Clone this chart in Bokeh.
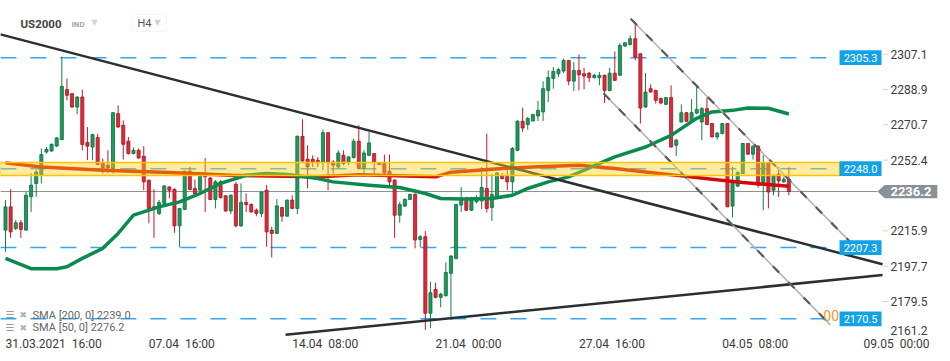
from bokeh.plotting import figure
from bokeh.models import Range1d, Label, ColumnDataSource, BoxAnnotation
from bokeh.core.properties import value
from bokeh.embed import file_html
from bokeh.resources import INLINE

# ---------------- data (US2000, H4 candles) ----------------
opens = [2216.3, 2228.3, 2217.2, 2220.1, 2216.3, 2233.5, 2240.4, 2245.0, 2256.6, 2257.2,
         2259.7, 2263.0, 2288.8, 2286.7, 2279.8, 2285.0, 2261.5, 2259.2, 2264.1, 2250.7,
         2249.8, 2248.1, 2276.4, 2270.4, 2262.2, 2255.8, 2257.5, 2254.4, 2242.1, 2228.3,
         2224.9, 2230.1, 2238.6, 2237.4, 2218.5, 2227.0, 2246.7, 2237.8, 2236.9, 2245.5,
         2243.2, 2232.1, 2241.2, 2234.0, 2226.2, 2240.0, 2218.5, 2230.6, 2229.5, 2226.6,
         2224.9, 2236.9, 2216.3, 2214.6, 2228.0, 2223.5, 2231.8, 2227.5, 2264.7, 2252.9,
         2252.9, 2252.4, 2251.5, 2266.6, 2251.5, 2248.9, 2254.9, 2251.5, 2253.8, 2262.2,
         2248.1, 2254.9, 2255.8, 2251.0, 2250.7, 2246.7, 2242.1, 2224.0, 2228.7, 2232.1,
         2234.8, 2211.5, 2212.9, 2173.4, 2185.7, 2181.6, 2182.5, 2194.0, 2201.7, 2229.2,
         2232.3, 2226.6, 2230.9, 2231.4, 2237.8, 2228.0, 2233.5, 2244.1, 2244.1, 2241.2,
         2257.5, 2272.5, 2270.8, 2272.6, 2275.2, 2277.3, 2288.4, 2294.5, 2297.0, 2298.4,
         2303.9, 2293.2, 2298.7, 2297.0, 2297.3, 2295.0, 2295.0, 2296.2, 2288.4, 2297.3,
         2296.2, 2311.3, 2312.1, 2315.1, 2307.3, 2279.8, 2289.3, 2288.4, 2284.2, 2281.2,
         2284.7, 2260.1, 2272.1, 2276.9, 2272.5, 2276.7, 2272.1, 2279.0, 2271.3, 2264.4,
         2266.1, 2271.3, 2228.7, 2239.0, 2245.5, 2261.0, 2255.5, 2259.6, 2240.7, 2251.0,
         2236.9, 2245.2, 2241.2, 2242.6]
highs = [2231.8, 2237.4, 2221.5, 2221.5, 2236.0, 2245.7, 2247.2, 2258.4, 2259.2, 2261.0,
         2264.4, 2305.9, 2294.5, 2287.0, 2285.3, 2288.8, 2269.5, 2266.1, 2266.1, 2253.2,
         2257.5, 2277.3, 2280.7, 2273.0, 2264.4, 2258.9, 2258.4, 2259.6, 2242.3, 2237.4,
         2231.8, 2239.5, 2238.8, 2237.8, 2227.7, 2247.0, 2248.9, 2242.4, 2246.3, 2253.5,
         2243.8, 2242.1, 2242.1, 2234.3, 2234.7, 2241.2, 2240.4, 2235.2, 2230.1, 2227.5,
         2236.0, 2239.5, 2218.0, 2232.3, 2228.3, 2232.1, 2234.3, 2265.2, 2273.5, 2260.1,
         2254.9, 2254.1, 2268.2, 2266.8, 2252.4, 2257.5, 2257.5, 2254.4, 2263.5, 2270.4,
         2257.5, 2266.9, 2256.0, 2251.5, 2255.3, 2255.3, 2242.6, 2230.9, 2232.8, 2235.2,
         2235.2, 2213.7, 2215.8, 2189.7, 2189.2, 2184.0, 2199.7, 2203.4, 2230.0, 2238.6,
         2233.5, 2233.5, 2234.3, 2248.9, 2266.1, 2245.2, 2246.3, 2245.8, 2248.9, 2259.2,
         2273.0, 2279.5, 2274.7, 2276.4, 2282.9, 2293.1, 2298.7, 2300.4, 2300.1, 2304.8,
         2304.1, 2303.0, 2307.0, 2300.1, 2297.9, 2297.0, 2297.9, 2296.5, 2300.1, 2308.5,
         2312.8, 2313.3, 2316.8, 2322.4, 2307.5, 2297.3, 2291.5, 2288.8, 2284.7, 2284.9,
         2291.0, 2263.5, 2281.2, 2277.3, 2283.8, 2290.5, 2279.8, 2284.7, 2271.6, 2266.9,
         2271.6, 2271.6, 2248.9, 2246.7, 2261.1, 2261.1, 2260.1, 2260.1, 2254.9, 2251.2,
         2245.2, 2248.9, 2243.8, 2248.9]
lows = [2205.1, 2212.3, 2216.3, 2212.3, 2215.9, 2225.7, 2233.5, 2240.4, 2255.8, 2256.6,
        2259.2, 2262.7, 2283.3, 2279.5, 2276.1, 2257.5, 2252.4, 2252.4, 2249.8, 2245.5,
        2245.8, 2245.5, 2269.2, 2252.7, 2255.3, 2255.5, 2253.2, 2236.9, 2219.8, 2212.3,
        2224.0, 2229.2, 2232.6, 2214.9, 2207.4, 2226.6, 2236.9, 2233.5, 2236.0, 2225.7,
        2231.8, 2227.5, 2232.6, 2225.7, 2224.5, 2217.7, 2218.0, 2225.7, 2225.2, 2223.5,
        2223.1, 2207.7, 2202.2, 2214.2, 2220.6, 2223.2, 2227.1, 2224.5, 2251.5, 2237.8,
        2248.9, 2248.9, 2247.2, 2236.9, 2245.5, 2248.1, 2249.8, 2249.8, 2253.2, 2247.6,
        2243.8, 2254.4, 2245.5, 2249.8, 2245.2, 2239.0, 2212.3, 2220.1, 2228.2, 2231.8,
        2206.9, 2207.7, 2164.8, 2165.7, 2181.1, 2176.5, 2181.9, 2169.9, 2201.2, 2225.7,
        2226.1, 2226.1, 2230.1, 2227.1, 2225.4, 2221.1, 2232.6, 2242.4, 2236.9, 2234.7,
        2257.0, 2267.0, 2268.2, 2272.5, 2272.6, 2272.6, 2282.4, 2289.3, 2295.3, 2297.3,
        2291.0, 2288.1, 2288.4, 2289.0, 2292.7, 2294.5, 2291.0, 2281.9, 2287.9, 2293.2,
        2295.8, 2310.7, 2311.6, 2303.9, 2271.3, 2279.5, 2287.2, 2281.6, 2281.2, 2280.7,
        2258.9, 2254.6, 2271.8, 2272.1, 2272.1, 2276.1, 2262.7, 2270.4, 2264.1, 2263.0,
        2265.8, 2228.2, 2222.8, 2238.6, 2245.2, 2255.2, 2252.7, 2238.3, 2226.6, 2227.5,
        2234.3, 2233.5, 2240.7, 2234.3]
closes = [2228.3, 2215.4, 2220.1, 2216.7, 2234.3, 2239.5, 2246.3, 2255.3, 2258.0, 2260.6,
          2263.9, 2290.5, 2285.9, 2279.8, 2285.0, 2260.5, 2259.6, 2265.6, 2250.2, 2248.6,
          2248.4, 2276.9, 2269.5, 2260.6, 2255.8, 2257.5, 2253.5, 2241.2, 2227.5, 2227.5,
          2230.6, 2239.1, 2236.9, 2218.5, 2227.5, 2246.7, 2237.3, 2235.2, 2245.5, 2243.8,
          2232.1, 2241.2, 2233.1, 2226.2, 2234.3, 2218.5, 2230.6, 2229.5, 2225.7, 2224.9,
          2236.0, 2215.4, 2214.6, 2228.8, 2223.5, 2231.8, 2227.5, 2264.7, 2252.0, 2248.9,
          2251.5, 2251.0, 2266.6, 2251.5, 2249.8, 2256.1, 2250.7, 2254.1, 2262.2, 2248.1,
          2256.1, 2261.3, 2251.5, 2250.2, 2245.8, 2241.2, 2224.0, 2229.5, 2232.1, 2234.7,
          2211.2, 2212.9, 2173.4, 2184.0, 2181.6, 2183.3, 2194.5, 2202.9, 2229.5, 2232.6,
          2226.6, 2231.8, 2232.6, 2238.3, 2227.5, 2234.7, 2245.8, 2242.9, 2241.2, 2258.4,
          2272.5, 2269.0, 2273.9, 2275.9, 2278.1, 2289.3, 2295.0, 2298.2, 2299.1, 2303.9,
          2293.2, 2298.7, 2296.5, 2295.8, 2295.0, 2296.2, 2296.2, 2288.4, 2297.3, 2293.6,
          2311.6, 2313.0, 2315.1, 2305.6, 2279.3, 2287.6, 2287.6, 2283.3, 2281.9, 2284.7,
          2259.2, 2262.7, 2276.9, 2272.5, 2276.9, 2278.6, 2279.0, 2270.8, 2264.4, 2266.4,
          2271.3, 2228.3, 2240.7, 2246.0, 2261.0, 2255.5, 2259.6, 2239.5, 2251.0, 2236.0,
          2244.3, 2241.7, 2242.6, 2236.2]

# moving averages (candle index, value)
sma50_idx = [0, 5, 10, 12, 15, 19, 22, 25, 30, 34, 38, 42, 47, 51, 55, 61, 64, 71, 77, 82,
             85, 89, 95, 99, 102, 106, 110, 113, 116, 119, 125, 130, 135, 138, 142, 145, 149, 153]
sma50_val = [2201.7, 2196.4, 2196.4, 2197.4, 2201.7, 2206.9, 2214.6, 2224.0, 2228.3, 2230.9,
             2235.2, 2240.4, 2244.6, 2245.5, 2245.0, 2242.9, 2241.2, 2239.5, 2238.3, 2235.2,
             2232.6, 2232.3, 2232.6, 2234.3, 2237.8, 2241.2, 2243.8, 2247.2, 2250.7, 2254.1,
             2259.2, 2265.2, 2274.0, 2277.3, 2278.1, 2279.3, 2279.2, 2276.2]
sma200_idx = [0, 7, 19, 32, 44, 61, 69, 84, 87, 97, 103, 112, 119, 125, 132, 138, 144, 153]
sma200_val = [2251.0, 2248.9, 2247.2, 2246.0, 2244.6, 2243.8, 2244.9, 2243.8, 2246.2, 2248.1,
              2248.9, 2249.8, 2248.1, 2246.3, 2244.3, 2242.6, 2240.9, 2239.0]

# horizontal levels
level_vals = [2305.3, 2248.0, 2207.3, 2170.5]
level_text = ["2305.3", "2248.0", "2207.3", "2170.5"]
zone_low, zone_high = 2244.5, 2251.2
last_price = 2236.2

# trend lines (candle index, price)
down_trend_x, down_trend_y = [-1, 171.3], [2317.3, 2198.7]
up_trend_x, up_trend_y = [54.7, 171.3], [2162.3, 2193.1]
chan_up_x, chan_up_y = [122.1, 165.2], [2325.4, 2209.6]
chan_lo_x, chan_lo_y = [116.8, 161.1], [2286.9, 2167.4]

# price scale ticks and time labels
ytick_vals = [2179.5, 2197.7, 2215.9, 2252.4, 2270.7, 2288.9, 2307.1]
ytick_bottom = 2161.2
xtick_idx = [0, 28, 56, 84, 112, 140, 167.6]
NB = "\u00a0\u00a0"
xtick_text = ["31.03.2021" + NB + "16:00", "07.04" + NB + "16:00", "14.04" + NB + "08:00",
              "21.04" + NB + "00:00", "27.04" + NB + "16:00", "04.05" + NB + "08:00",
              "09.05" + NB + "00:00"]

# ---------------- layout / styling constants ----------------
FONT = "Roboto"
G_FILL, G_EDGE, G_WICK = "#1f9a5c", "#0d6b3d", "#148049"
R_FILL, R_EDGE, R_WICK = "#e02a3a", "#9e1420", "#c4192b"
BLUE = "#35a7ef"
BOX_BLUE = "#14a2e6"
LINE_END = 162.9          # where the level rays stop (candle-index units)
BOX_L, BOX_R, BOX_H = 162.9, 171.1, 3.8
SCALE_X = 172.85          # left edge of the price-scale labels
TICK_X0, TICK_X1 = 171.3, 172.4
XLABEL_Y = 2157.6
MARK_TIP, MARK_L, MARK_R, MARK_H = 170.3, 171.7, 182.0, 3.45

p = figure(width=950, height=361, x_range=Range1d(-0.977, 184.57), y_range=Range1d(2148.5, 2334.8),
           output_backend="svg", toolbar_location=None, x_axis_location=None, y_axis_location=None,
           min_border=0, title=None)
p.outline_line_color = None
p.background_fill_color = "white"
p.border_fill_color = "white"
p.grid.visible = False

# level rays (dashed)
for lv in level_vals:
    p.line([-1, LINE_END], [lv, lv], line_color=BLUE, line_width=1.5, line_dash="16 14")

# last price line
p.line([-1, MARK_TIP], [last_price, last_price], line_color="#8c8c8c", line_width=1)

# candles
idx = list(range(len(opens)))
up = [c >= o for o, c in zip(opens, closes)]
src = ColumnDataSource(dict(
    x=idx, high=highs, low=lows,
    top=[max(o, c) for o, c in zip(opens, closes)],
    bot=[min(o, c) for o, c in zip(opens, closes)],
    fill=[G_FILL if u else R_FILL for u in up],
    edge=[G_EDGE if u else R_EDGE for u in up],
    wick=[G_WICK if u else R_WICK for u in up],
))
p.segment(x0="x", y0="low", x1="x", y1="high", line_color="wick", line_width=1, source=src)
p.vbar(x="x", width=0.6, top="top", bottom="bot", fill_color="fill", line_color="edge",
       line_width=0.8, source=src)

# moving averages
p.line(sma200_idx, sma200_val, line_color="#d40a0a", line_width=3.5, line_join="round")
p.line(sma50_idx, sma50_val, line_color="#0b8a4f", line_width=3.5, line_join="round")

# trend lines
p.line(down_trend_x, down_trend_y, line_color="#2b2f33", line_width=2.5)
p.line(up_trend_x, up_trend_y, line_color="#2b2f33", line_width=2.5)
for cx, cy in ((chan_up_x, chan_up_y), (chan_lo_x, chan_lo_y)):
    p.line(cx, cy, line_color="#b4b4b4", line_width=1.6)
    p.line(cx, cy, line_color="#5c5c5c", line_width=2.2, line_dash="9 13")

# resistance / support zone
p.quad(left=[-1], right=[LINE_END], bottom=[zone_low], top=[zone_high],
       fill_color="#ffd21f", fill_alpha=0.42, line_color="#ffc400", line_width=1.5)

# orange partially hidden label
p.text(x=[162.8], y=[2172.0], text=["00"], text_align="right", text_baseline="middle",
       text_font=value(FONT), text_font_size="14px", text_color="#f7941d")

# level boxes
p.quad(left=[BOX_L] * 4, right=[BOX_R] * 4, bottom=[v - BOX_H for v in level_vals],
       top=[v + BOX_H for v in level_vals], fill_color=BOX_BLUE, line_color=None)
p.text(x=[(BOX_L + BOX_R) / 2] * 4, y=level_vals, text=level_text, text_align="center",
       text_baseline="middle", text_font=value(FONT), text_font_size="11px", text_color="white")

# price scale (right)
p.segment(x0=[TICK_X0] * len(ytick_vals), x1=[TICK_X1] * len(ytick_vals), y0=ytick_vals,
          y1=ytick_vals, line_color="#d4d4d4", line_width=1)
p.text(x=[SCALE_X] * len(ytick_vals), y=ytick_vals, text=["%.1f" % v for v in ytick_vals],
       text_align="left", text_baseline="middle", text_font=value(FONT),
       text_font_size="12px", text_color="#3a3a3a")
p.text(x=[SCALE_X], y=[ytick_bottom], text=["%.1f" % ytick_bottom], y_offset=-6,
       text_align="left", text_baseline="middle", text_font=value(FONT),
       text_font_size="12px", text_color="#3a3a3a")

# current price marker
p.patch([MARK_TIP, MARK_L, MARK_R, MARK_R, MARK_L],
        [last_price, last_price + MARK_H, last_price + MARK_H, last_price - MARK_H, last_price - MARK_H],
        fill_color="#8a9297", line_color=None)
p.text(x=[(MARK_L + MARK_R) / 2], y=[last_price], text=["%.1f" % last_price], text_align="center",
       text_baseline="middle", text_font=value(FONT), text_font_size="13px",
       text_font_style="bold", text_color="white")

# time labels (left-aligned at their time)
p.text(x=xtick_idx, y=[XLABEL_Y] * len(xtick_idx), text=xtick_text, text_align="left",
       text_baseline="middle", text_font=value(FONT), text_font_size="12px", text_color="#3a3a3a")

# header
def lab(x, y, t, size, color, bold=False, font=FONT):
    p.add_layout(Label(x=x, y=y, x_units="screen", y_units="screen", text=t,
                       text_baseline="middle", text_align="left", text_font=font,
                       text_font_size=size, text_color=color,
                       text_font_style="bold" if bold else "normal"))

lab(20, 338, "US2000", "11.5px", "#444444", bold=True)
lab(71, 337, "IND", "8px", "#a6a6a6", bold=True)
lab(91, 339, "▼", "8px", "#d4d4d4", font="DejaVu Sans")
p.add_layout(BoxAnnotation(left=131, right=166, top=347, bottom=330, left_units="screen",
                           right_units="screen", top_units="screen", bottom_units="screen",
                           fill_color="white", fill_alpha=1, line_color="#dcdcdc", line_width=1,
                           border_radius=3))
lab(137, 338.5, "H4", "11px", "#555555")
lab(154, 339, "▼", "8px", "#cfcfcf", font="DejaVu Sans")

# legend rows
lab(5, 47, "☰", "10px", "#9a9a9a", font="DejaVu Sans")
lab(19, 47, "✖", "9px", "#b0b0b0", font="DejaVu Sans")
lab(32, 46, "SMA [200, 0] 2239.0", "11px", "#666666")
lab(5, 34, "☰", "10px", "#9a9a9a", font="DejaVu Sans")
lab(19, 34, "✖", "9px", "#b0b0b0", font="DejaVu Sans")
lab(32, 34, "SMA [50, 0] 2276.2", "11px", "#666666")

open("out.html", "w").write(file_html(p, INLINE))
